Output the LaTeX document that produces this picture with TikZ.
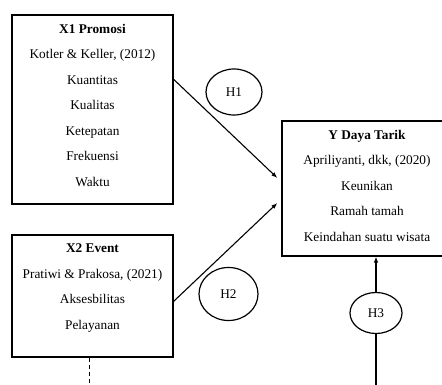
\documentclass[tikz,border=0pt]{standalone}
\usepackage{fontspec}
\setmainfont{Liberation Serif}
\usetikzlibrary{shapes.geometric,arrows.meta}
\begin{document}
\begin{tikzpicture}[x=1pt, y=-1pt, >={Latex[length=6pt,width=4.5pt]}]
  \tikzstyle{box}=[rectangle, draw=black, line width=1.3pt, inner sep=0pt]
  \tikzstyle{boxtext}=[anchor=north, align=center, inner sep=0pt, font=\fontsize{13.3}{25.5}\selectfont]
  \tikzstyle{hypo}=[ellipse, draw=black, line width=1.2pt, fill=white, inner sep=0pt, font=\fontsize{13.3}{16}\selectfont]
  \useasboundingbox (0,0) rectangle (442,385);
    \node[box, minimum width=161pt, minimum height=189pt] (X1) at (92.5,109.5) {};
    \node[box, minimum width=161pt, minimum height=122pt] (X2) at (92.5,296) {};
    \node[box, minimum width=170pt, minimum height=135pt] (Y) at (367,188.5) {};
    \node[boxtext] (X1t) at ([yshift=-9.5pt]X1.north) {\textbf{X1 Promosi}\\Kotler \& Keller, (2012)\\Kuantitas\\Kualitas\\Ketepatan\\Frekuensi\\Waktu};
    \node[boxtext] (X2t) at ([yshift=-9.5pt]X2.north) {\textbf{X2 Event}\\Pratiwi \& Prakosa, (2021)\\Aksesbilitas\\Pelayanan};
    \node[boxtext] (Yt) at ([yshift=-9.5pt]Y.north) {\textbf{Y Daya Tarik}\\Apriliyanti, dkk, (2020)\\Keunikan\\Ramah tamah\\Keindahan suatu wisata};
    \coordinate (bot) at (376,385);
    \coordinate (dash) at (89.5,385);
    \draw[->, line width=1.1pt] ([yshift=-65pt]X1.north east) -- ([xshift=-4pt, yshift=10.5pt]Y.west);
    \draw[->, line width=1.1pt] ([yshift=-67pt]X2.north east) -- ([xshift=-4pt, yshift=-14.5pt]Y.west);
    \draw[->, line width=1.1pt] (bot) -- (bot |- Y.south);
    \draw[line width=0.7pt, dash pattern=on 4pt off 3pt] ([xshift=-3pt]X2.south) -- (dash);
    \node[hypo, minimum width=56pt, minimum height=46pt] (H1) at (234,92) {H1};
    \node[hypo, minimum width=59pt, minimum height=53pt] (H2) at (228.5,294) {H2};
    \node[hypo, minimum width=52pt, minimum height=41pt] (H3) at (376,313) {H3};
  \end{tikzpicture}
\end{document}
